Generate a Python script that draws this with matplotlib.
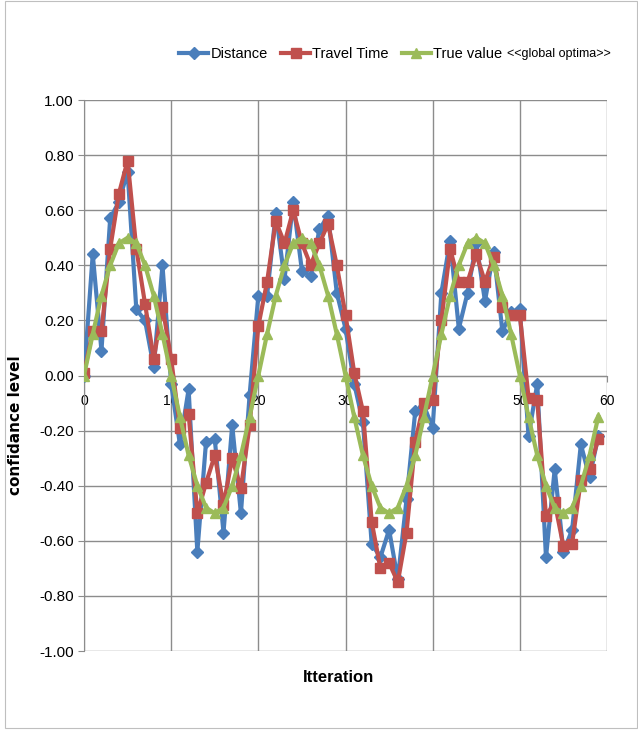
import matplotlib
matplotlib.use("Agg")
import matplotlib.pyplot as plt
from matplotlib.patches import Rectangle

iterations = list(range(60))

distance = [0.00, 0.44, 0.09, 0.57, 0.63, 0.74, 0.24, 0.20, 0.03, 0.40,
            -0.03, -0.25, -0.05, -0.64, -0.24, -0.23, -0.57, -0.18, -0.50, -0.07,
            0.29, 0.29, 0.59, 0.35, 0.63, 0.38, 0.36, 0.53, 0.58, 0.30,
            0.17, -0.03, -0.17, -0.61, -0.66, -0.56, -0.74, -0.45, -0.13, -0.11,
            -0.19, 0.30, 0.49, 0.17, 0.30, 0.48, 0.27, 0.45, 0.16, 0.23,
            0.24, -0.22, -0.03, -0.66, -0.34, -0.64, -0.56, -0.25, -0.37, -0.22]

travel_time = [0.01, 0.16, 0.16, 0.46, 0.66, 0.78, 0.46, 0.26, 0.06, 0.25,
               0.06, -0.19, -0.14, -0.50, -0.39, -0.29, -0.47, -0.30, -0.41, -0.18,
               0.18, 0.34, 0.56, 0.48, 0.60, 0.48, 0.40, 0.48, 0.55, 0.40,
               0.22, 0.01, -0.13, -0.53, -0.70, -0.68, -0.75, -0.57, -0.24, -0.10,
               -0.09, 0.20, 0.46, 0.34, 0.34, 0.44, 0.34, 0.43, 0.25, 0.22,
               0.22, -0.08, -0.09, -0.51, -0.46, -0.62, -0.61, -0.38, -0.34, -0.23]

true_value = [0.00, 0.15, 0.29, 0.40, 0.48, 0.50, 0.48, 0.40, 0.29, 0.15,
              0.00, -0.15, -0.29, -0.40, -0.48, -0.50, -0.48, -0.40, -0.29, -0.15,
              0.00, 0.15, 0.29, 0.40, 0.48, 0.50, 0.48, 0.40, 0.29, 0.15,
              0.00, -0.15, -0.29, -0.40, -0.48, -0.50, -0.48, -0.40, -0.29, -0.15,
              0.00, 0.15, 0.29, 0.40, 0.48, 0.50, 0.48, 0.40, 0.29, 0.15,
              0.00, -0.15, -0.29, -0.40, -0.48, -0.50, -0.48, -0.40, -0.29, -0.15]

y_ticks = [1.0, 0.8, 0.6, 0.4, 0.2, 0.0, -0.2, -0.4, -0.6, -0.8, -1.0]
x_ticks = [0, 10, 20, 30, 40, 50, 60]

plt.rcParams['font.family'] = ['Liberation Sans', 'DejaVu Sans']

fig = plt.figure(figsize=(6.38, 7.31), dpi=100)
fig.patches.append(Rectangle((0.008, 0.004), 0.99, 0.994, transform=fig.transFigure,
                             fill=False, edgecolor='#bfbfbf', linewidth=0.8))
ax = fig.add_axes([0.1317, 0.1094, 0.8197, 0.7538])

ax.plot(iterations, distance, color='#4a7ebb', linewidth=3, marker='D', markersize=6.5,
        label='Distance', zorder=3)
ax.plot(iterations, travel_time, color='#c0504d', linewidth=3, marker='s', markersize=7.5,
        label='Travel Time', zorder=4)
ax.plot(iterations, true_value, color='#9bbb59', linewidth=3, marker='^', markersize=7.5,
        label='True value', zorder=5)

ax.set_xlim(0, 60)
ax.set_ylim(-1, 1)
ax.set_xticks(x_ticks)
ax.set_yticks(y_ticks)
ax.set_yticklabels(['%.2f' % v for v in y_ticks], fontsize=11)
ax.set_xticklabels([str(v) for v in x_ticks], fontsize=13)
ax.grid(True, color='#8c8c8c', linewidth=1)
ax.set_axisbelow(True)

ax.spines['bottom'].set_position(('data', 0))
ax.spines['bottom'].set_color('#8c8c8c')
ax.spines['left'].set_color('#8c8c8c')
ax.spines['top'].set_visible(False)
ax.spines['right'].set_visible(False)
ax.tick_params(axis='both', length=4, color='#8c8c8c')
ax.tick_params(axis='x', pad=9)

ax.set_xlabel('Itteration', fontsize=12, fontweight='bold')
ax.xaxis.set_label_coords(0.486, -0.035)
ax.set_ylabel('confidance level', fontsize=11, fontweight='bold', family='DejaVu Sans')
ax.yaxis.set_label_coords(-0.117, 0.41)

leg = ax.legend(loc='center left', bbox_to_anchor=(0.182, 1.083), ncol=3, frameon=False,
                fontsize=10.5, handlelength=2.0, handletextpad=0.15, columnspacing=0.9,
                borderaxespad=0, borderpad=0)

fig.canvas.draw()
bb = leg.get_window_extent()
fig.text(bb.x1 / fig.bbox.width + 0.008, (bb.y0 + bb.y1) / 2 / fig.bbox.height,
         '<<global optima>>', fontsize=9, va='center', ha='left')

fig.savefig('out.png', dpi=100)
